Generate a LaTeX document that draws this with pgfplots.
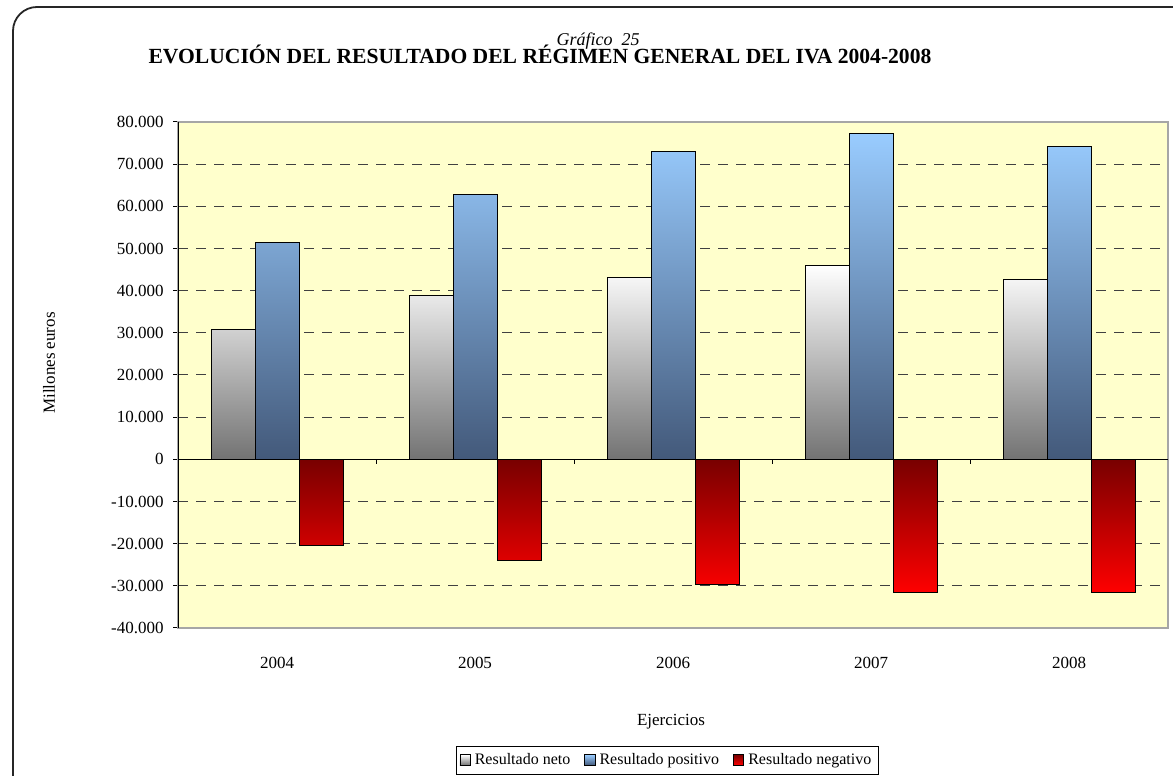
\documentclass[border=0pt]{standalone}
\usepackage{pgfplots}
\pgfplotsset{compat=1.18}
\usepackage{fontspec}
\setmainfont{Liberation Serif}
\definecolor{bgyellow}{HTML}{FFFFCC}
\definecolor{netobot}{HTML}{737373}
\definecolor{postop}{HTML}{99CCFF}
\definecolor{posbot}{HTML}{43597A}
\definecolor{negtop}{HTML}{780000}
\definecolor{negbot}{HTML}{FF0000}
\definecolor{gridc}{HTML}{404040}
\begin{document}
\begin{tikzpicture}[x=0.5pt,y=0.5pt]
\useasboundingbox (0,0) rectangle (1173,776);
\draw[line width=0.9pt, black!85, rounded corners=12pt] (13,-30) rectangle (1200,769);
\begin{axis}[
  at={(89pt,74pt)}, anchor=south west,
  width=495pt, height=253pt, scale only axis,
  xmin=-0.5, xmax=4.5, ymin=-40000, ymax=80000,
  scaled y ticks=false,
  xtick={0,1,2,3,4}, xticklabels={2004,2005,2006,2007,2008},
  ytick={-40000,-30000,-20000,-10000,0,10000,20000,30000,40000,50000,60000,70000,80000},
  yticklabels={-40.000,-30.000,-20.000,-10.000,0,10.000,20.000,30.000,40.000,50.000,60.000,70.000,80.000},
  ytick pos=left,
  tick align=outside, major tick length=2.5pt,
  xtick style={draw=none},
  ytick style={draw=black, line width=0.5pt},
  axis line style={draw=black!35, line width=0.6pt},
  axis background/.style={fill=bgyellow},
  ymajorgrids, grid style={gridc, line width=0.5pt, dash pattern=on 5pt off 4pt},
  ticklabel style={font=\fontsize{8.5}{10}\selectfont},
  xticklabel style={yshift=-8.5pt},
  yticklabel style={xshift=-1.2pt},
  ybar=0pt, bar width=22pt,
  legend style={at={(0.4944,-0.261)}, anchor=center, draw=black, line width=0.5pt,
    font=\fontsize{8}{9.5}\selectfont, inner sep=1.5pt,
    /tikz/every even column/.append style={column sep=5pt}},
  legend columns=3,
  legend image code/.code={\draw[#1, line width=0.4pt] (0pt,-2.6pt) rectangle (5.2pt,2.6pt);},
]
\addplot[draw=black, line width=0.5pt, top color=white, bottom color=netobot]
  coordinates {(0,30800) (1,38900) (2,43200) (3,46000) (4,42700)};
\addplot[draw=black, line width=0.5pt, top color=postop, bottom color=posbot]
  coordinates {(0,51400) (1,62800) (2,73000) (3,77300) (4,74200)};
\addplot[draw=black, line width=0.5pt, top color=negtop, bottom color=negbot]
  coordinates {(0,-20500) (1,-24000) (2,-29700) (3,-31600) (4,-31600)};
\legend{Resultado neto, Resultado positivo, Resultado negativo}
\draw[black, line width=0.6pt] (rel axis cs:0,0) -- (rel axis cs:0,1);
\draw[black, line width=0.6pt] (axis cs:-0.5,0) -- (axis cs:4.5,0);
\draw[black, line width=0.5pt] (axis cs:0.5,0) -- ++(0pt,-2.5pt);
\draw[black, line width=0.5pt] (axis cs:1.5,0) -- ++(0pt,-2.5pt);
\draw[black, line width=0.5pt] (axis cs:2.5,0) -- ++(0pt,-2.5pt);
\draw[black, line width=0.5pt] (axis cs:3.5,0) -- ++(0pt,-2.5pt);
\end{axis}
\node[font=\fontsize{9}{11}\selectfont\itshape, anchor=base, inner sep=0pt] at (598,730.5) {Gráfico\ \ 25};
\node[font=\fontsize{10.8}{12}\selectfont\bfseries, anchor=base, inner sep=0pt] at (540,712) {EVOLUCIÓN DEL RESULTADO DEL RÉGIMEN GENERAL DEL IVA 2004-2008};
\node[font=\fontsize{8.5}{10}\selectfont, rotate=90, anchor=base] at (55,413) {Millones euros};
\node[font=\fontsize{8.5}{10}\selectfont, anchor=base] at (671,50) {Ejercicios};
\end{tikzpicture}
\end{document}
